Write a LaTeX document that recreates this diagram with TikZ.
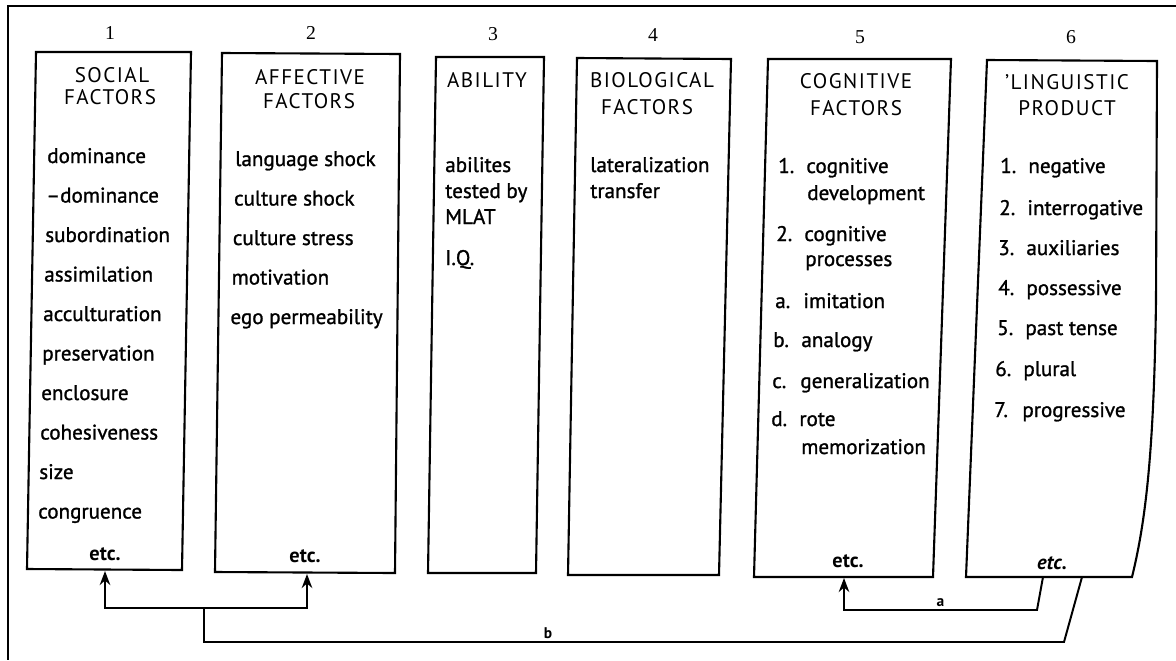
\documentclass[tikz,border=0pt]{standalone}
\usepackage{fontspec}
\setmainfont{PT Sans}
\newfontfamily\numfont{Liberation Serif}
\usetikzlibrary{arrows.meta}
\tikzset{
    frame/.style={
        line width=0.9pt,
    },
    panel/.style={
        line width=1.5pt,
        line join=miter,
    },
    colno/.style={
        font=\numfont\fontsize{14}{16}\selectfont,
        inner sep=0pt,
    },
    head/.style={
        font=\fontsize{15}{17}\selectfont\addfontfeature{LetterSpace=7},
        inner sep=0pt,
    },
    item/.style={
        anchor=base west,
        font=\fontsize{15}{18}\selectfont\addfontfeature{FakeBold=1.2},
        inner sep=0pt,
    },
    etc/.style={
        anchor=base,
        font=\fontsize{14.5}{17}\selectfont\bfseries,
        inner sep=0pt,
    },
    link/.style={
        line width=1.4pt,
        line join=miter,
    },
    tag/.style={
        font=\fontsize{11}{13}\selectfont\bfseries,
        inner sep=2pt,
    }
}
\newcommand{\itemno}[1]{\makebox[20pt][l]{#1}}

\begin{document}
\begin{tikzpicture}[x=0.025cm,y=-0.025cm,>={Stealth[length=10pt,width=7.5pt]}]
    \useasboundingbox (0,0) rectangle (1176,660);
    \draw[frame] (1176,6) -- (8,6) -- (8,660);

    % the six columns
    \draw[panel] (36,52) -- (191,52) -- (182,570) -- (27,569) -- cycle;
    \draw[panel] (222,53) -- (400,54) -- (395,573) -- (215,572) -- cycle;
    \draw[panel] (436,57) -- (544,57) -- (536,573) -- (428,573) -- cycle;
    \draw[panel] (577,58) -- (731,59) -- (719,575) -- (568,575) -- cycle;
    \draw[panel] (768,59) -- (951,59) -- (933,577) -- (754,577) -- cycle;
    \draw[panel] (987,60) -- (1157,61) -- (1156,300)
        .. controls (1154,450) and (1146,520) .. (1132,577) -- (966,577) -- cycle;

    \node[colno] (n1) at (110,33) {1};
    \node[colno] (n2) at (311,33) {2};
    \node[colno] (n3) at (493,34) {3};
    \node[colno] (n4) at (653,35) {4};
    \node[colno] (n5) at (860,37) {5};
    \node[colno] (n6) at (1071,37) {6};

    \node[head] (h1a) at (112,75) {SOCIAL};
    \node[head] (h1b) at (110,97) {FACTORS};
    \node[head] (h2a) at (310,77) {AFFECTIVE};
    \node[head] (h2b) at (309,101) {FACTORS};
    \node[head] (h3a) at (487,80) {ABILITY};
    \node[head] (h4a) at (652,80) {BIOLOGICAL};
    \node[head] (h4b) at (647,107) {FACTORS};
    \node[head] (h5a) at (856,81) {COGNITIVE};
    \node[head] (h5b) at (856,108) {FACTORS};
    \node[head] (h6a) at (1067,82) {'LINGUISTIC};
    \node[head] (h6b) at (1067,108) {PRODUCT};

    \foreach \t [count=\i from 0] in {dominance,--dominance,subordination,
        assimilation,acculturation,preservation,enclosure,cohesiveness,
        size,congruence}
        \node[item] (soc\i) at (47-\i,163+39.5*\i) {\t};
    \node[etc] (etc1) at (105,560) {etc.};

    \foreach \t [count=\i from 0] in {language shock,culture shock,
        culture stress,motivation,ego permeability}
        \node[item] (aff\i) at (235-1.2*\i,166+39.5*\i) {\t};
    \node[etc] (etc2) at (305,562) {etc.};

    \node[item] (ab1) at (445,172) {abilites};
    \node[item] (ab2) at (445,198) {tested by};
    \node[item] (ab3) at (445,224) {MLAT};
    \node[item] (ab4) at (445,265) {I.Q.};

    \node[item] (bio1) at (590,172) {lateralization};
    \node[item] (bio2) at (590,198) {transfer};

    \node[item] (cog1) at (778,173) {\itemno{1.}cognitive};
    \node[item] (cog1b) at (807,200) {development};
    \node[item] (cog2) at (776,241) {\itemno{2.}cognitive};
    \node[item] (cog2b) at (805,266) {processes};
    \node[item] (cog3) at (775,308) {\itemno{a.}imitation};
    \node[item] (cog4) at (773,347) {\itemno{b.}analogy};
    \node[item] (cog5) at (772,388) {\itemno{c.}generalization};
    \node[item] (cog6) at (771,426) {\itemno{d.}rote};
    \node[item] (cog6b) at (801,454) {memorization};
    \node[etc] (etc5) at (848,567) {etc.};

    \node[item] (lin1) at (1000,173) {\itemno{1.}negative};
    \node[item] (lin2) at (999,215) {\itemno{2.}interrogative};
    \node[item] (lin3) at (998,255) {\itemno{3.}auxiliaries};
    \node[item] (lin4) at (998,295) {\itemno{4.}possessive};
    \node[item] (lin5) at (997,335) {\itemno{5.}past tense};
    \node[item] (lin6) at (995,376) {\itemno{6.}plural};
    \node[item] (lin7) at (994,417) {\itemno{7.}progressive};
    \node[etc,font=\fontsize{14.5}{17}\selectfont\bfseries\itshape] (etc6) at (1052,569) {etc.};

    % feedback lines
    \coordinate (in1) at (105,571);
    \coordinate (in2) at (307,574);
    \coordinate (in5) at (844,578);
    \coordinate (outa) at (1043,577);
    \coordinate (outb) at (1082,577);
    \coordinate (fork) at (204,608);
    \coordinate (aturn) at (1037,610);
    \coordinate (bturn) at (1064,642);

    \draw[link,->] (fork) -| (in1);
    \draw[link,->] (fork) -| (in2);
    \draw[link] (outb) -- (bturn) -| node[tag,pos=0.3,above] (lb) {b} (fork);
    \draw[link,->] (outa) -- (aturn) -| node[tag,pos=0.25,above] (la) {a} (in5);
\end{tikzpicture}
\end{document}
